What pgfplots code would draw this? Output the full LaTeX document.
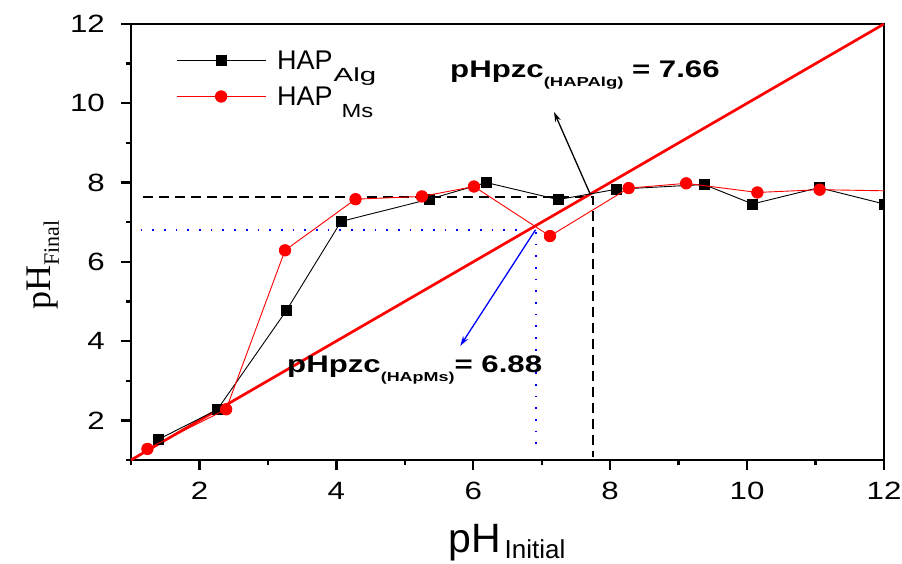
\documentclass[border=0pt]{standalone}
\usepackage{pgfplots}
\pgfplotsset{compat=1.18}
\usepackage{fontspec}
\setmainfont{Liberation Sans}
\newfontfamily\timesfont{Liberation Serif}
\usetikzlibrary{arrows.meta}
\begin{document}
\begin{tikzpicture}
\useasboundingbox (-131pt,-103pt) rectangle (771pt,460pt);
\begin{axis}[
  scale only axis, width=753pt, height=436pt,
  xmin=1, xmax=12, ymin=1, ymax=12,
  xtick={2,4,6,8,10,12}, ytick={2,4,6,8,10,12},
  minor xtick={1,3,5,7,9,11}, minor ytick={1,3,5,7,9,11},
  xtick pos=left, ytick pos=left,
  tick align=outside,
  major tick length=10pt, minor tick length=5pt,
  separate axis lines,
  axis line style={line width=2.5pt, line cap=rect},
  tick style={black, line width=2.3pt},
  major tick style={black, line width=2.3pt},
  minor tick style={black, line width=2.3pt},
  /pgf/number format/assume math mode=true,
  ticklabel style={font=\fontsize{25}{25}\selectfont, inner sep=0pt},
  xticklabel={\scalebox{1.25}[1]{\pgfmathprintnumber{\tick}}},
  yticklabel={\scalebox{1.25}[1]{\pgfmathprintnumber{\tick}}},
  xticklabel style={anchor=north, yshift=-12pt},
  yticklabel style={anchor=east, xshift=-16pt},
  clip marker paths=true,
  legend style={draw=none, fill=none, at={(0.05976,0.9466)}, anchor=north west,
    inner sep=0pt, row sep=0pt, column sep=11pt,
    font=\fontsize{27}{27}\selectfont,
    nodes={inner sep=0pt, text height=22pt, text depth=14pt, anchor=base west}},
  legend cell align=left,
  legend image code/.code={\draw[mark repeat=2, mark phase=2, yshift=9pt] plot coordinates {(0pt,0pt) (44.5pt,0pt) (89pt,0pt)};},
]
% reference guide lines
\addplot[forget plot, black, line width=1.5pt, dash pattern=on 10pt off 6pt] coordinates {(1.17,7.63) (7.75,7.63) (7.75,1.08)};
\addplot[forget plot, blue, line width=1.7pt, dash pattern=on 1.7pt off 10pt] coordinates {(1.14,6.81) (6.92,6.81) (6.92,1.22)};
% y = x line
\addplot[forget plot, red, line width=2.7pt] coordinates {(1,1) (12,12)};
% data
\addplot[black, line width=0.9pt, mark=square*, mark size=5pt, mark options={solid, fill=black}] coordinates {
(1.40,1.52) (2.26,2.27) (3.27,4.77) (4.07,7.02) (5.36,7.58) (6.19,8.00) (7.24,7.57) (8.09,7.83) (9.37,7.95) (10.08,7.46) (11.05,7.87) (12.0,7.46)};
\addlegendentry{HAP\hspace{1pt}\raisebox{-12pt}{\scalebox{1.55}[1]{\fontsize{19}{19}\selectfont Alg}}}
\addplot[red, line width=0.9pt, mark=*, mark size=5.7pt, mark options={solid, fill=red}] coordinates {
(1.24,1.28) (2.39,2.28) (3.25,6.29) (4.28,7.58) (5.25,7.65) (6.01,7.90) (7.12,6.65) (8.27,7.86) (9.11,7.98) (10.15,7.75) (11.06,7.82) (12.4,7.78)};
\addlegendentry{HAP\hspace{9pt}\raisebox{-12pt}{\scalebox{1.25}[1]{\fontsize{19}{19}\selectfont Ms}}}
% arrows
\addplot[forget plot, black, line width=1.3pt, -{Stealth[length=10pt,width=6pt]}] coordinates {(7.71,7.70) (7.18,9.78)};
\addplot[forget plot, blue, line width=1.3pt, -{Stealth[length=10pt,width=6pt]}] coordinates {(6.91,6.81) (5.81,3.88)};
\end{axis}
% annotations
\node[anchor=base west, inner sep=0pt] at (319pt,382.7pt) {\bfseries\scalebox{1.3}[1]{\fontsize{24}{24}\selectfont pHpzc}\raisebox{-9pt}{\scalebox{1.42}[1]{\fontsize{13}{13}\selectfont (HAPAlg)}}\scalebox{1.3}[1]{\fontsize{24}{24}\selectfont\ = 7.66}};
\node[anchor=base west, inner sep=0pt] at (156pt,87.7pt) {\bfseries\scalebox{1.3}[1]{\fontsize{24}{24}\selectfont pHpzc}\raisebox{-9pt}{\scalebox{1.38}[1]{\fontsize{13}{13}\selectfont (HApMs)}}\scalebox{1.3}[1]{\fontsize{24}{24}\selectfont= 6.88}};
% axis labels
\node[anchor=base west, inner sep=0pt] at (317pt,-92pt) {\fontsize{41}{41}\selectfont pH\hspace{4pt}\raisebox{-6pt}{\fontsize{26}{26}\selectfont Initial}};
\node[anchor=base west, inner sep=0pt, rotate=90] at (-80pt,150pt) {\timesfont\fontsize{36}{36}\selectfont pH\raisebox{-8pt}{\fontsize{22}{22}\selectfont Final}};
\end{tikzpicture}
\end{document}
